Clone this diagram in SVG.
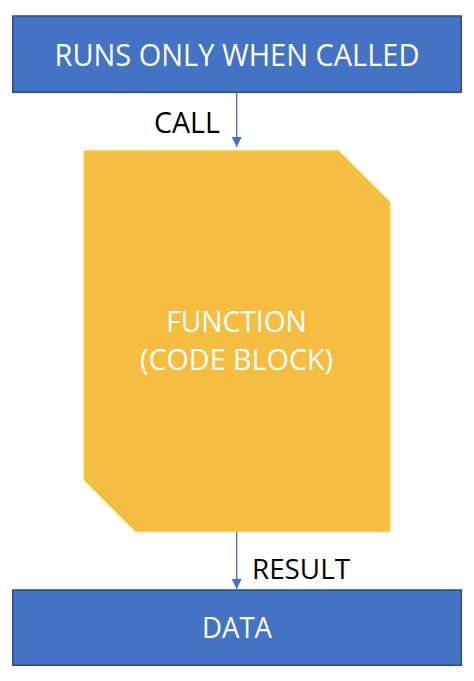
<svg xmlns="http://www.w3.org/2000/svg" width="474" height="681" viewBox="0 0 474 681">
<style>
.box{fill:#4472C4;stroke:#2F4A7E;stroke-width:1.5}
.fn{fill:#F5BE41;stroke:#F8CF5A;stroke-width:1}
.wt{fill:#FFFFFF;font-family:"Open Sans","Noto Sans",sans-serif;text-anchor:middle}
.bk{fill:#000000;font-family:"Open Sans","Noto Sans",sans-serif}
.ln{stroke:#4472C4;stroke-width:1.3;fill:none}
</style>
<defs>
<marker id="ah" markerWidth="10" markerHeight="10" refX="10" refY="5" orient="auto" markerUnits="userSpaceOnUse">
<path d="M0,0 L10,5 L0,10 Z" fill="#4472C4"/>
</marker>
</defs>
<rect width="474" height="681" fill="#FFFFFF"/>
<g id="connectors">
<line class="ln" x1="236.7" y1="92.5" x2="236.7" y2="147" marker-end="url(#ah)"/>
<line class="ln" x1="236.7" y1="532" x2="236.7" y2="589" marker-end="url(#ah)"/>
<text class="bk" x="154" y="133" font-size="29" textLength="66" lengthAdjust="spacingAndGlyphs">CALL</text>
<text class="bk" x="252" y="579" font-size="28" textLength="98" lengthAdjust="spacingAndGlyphs">RESULT</text>
</g>
<g id="node-runs">
<rect class="box" x="12.8" y="16" width="448.5" height="76.3"/>
<text class="wt" x="237" y="65.7" font-size="30.5" textLength="365" lengthAdjust="spacingAndGlyphs">RUNS ONLY WHEN CALLED</text>
</g>
<g id="node-function">
<polygon class="fn" points="84,150.7 338.5,150.7 390,202 390,531.7 135.5,531.7 84,480"/>
<text class="wt" x="236.5" y="331.7" font-size="29" textLength="140.5" lengthAdjust="spacingAndGlyphs">FUNCTION</text>
<text class="wt" x="236.5" y="370" font-size="29" textLength="193" lengthAdjust="spacingAndGlyphs">(CODE BLOCK)</text>
</g>
<g id="node-data">
<rect class="box" x="12.8" y="590" width="448.5" height="75.3"/>
<text class="wt" x="237" y="638" font-size="29" textLength="70" lengthAdjust="spacingAndGlyphs">DATA</text>
</g>
</svg>
